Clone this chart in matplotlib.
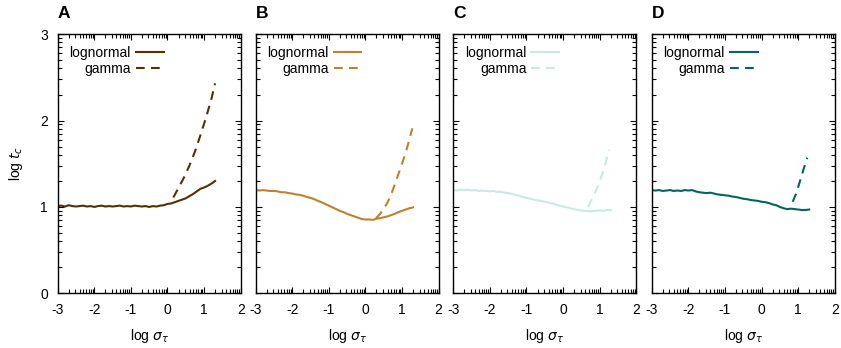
import numpy as np
import matplotlib
matplotlib.use("Agg")
import matplotlib.pyplot as plt
from matplotlib.ticker import FixedLocator

plt.rcParams['font.family'] = ['Liberation Sans', 'DejaVu Sans']
plt.rcParams['mathtext.fontset'] = 'dejavusans'

# x grid of the lognormal curves (log sigma_tau)
x_ln = [-3.0, -2.9, -2.8, -2.7, -2.6, -2.5, -2.4, -2.3, -2.2, -2.1,
        -2.0, -1.9, -1.8, -1.7, -1.6, -1.5, -1.4, -1.3, -1.2, -1.1,
        -1.0, -0.9, -0.8, -0.7, -0.6, -0.5, -0.4, -0.3, -0.2, -0.1,
        0.0, 0.1, 0.2, 0.3, 0.4, 0.5, 0.6, 0.7, 0.8, 0.9,
        1.0, 1.1, 1.2, 1.3]

# panel A
lnA = [1.01, 1.015, 1.005, 1.02, 1.01, 1.005, 1.01, 1.015, 1.005, 1.01,
       1.0, 1.01, 1.015, 1.005, 1.01, 1.005, 1.01, 1.015, 1.005, 1.01,
       1.005, 1.015, 1.01, 1.005, 1.01, 1.0, 1.01, 1.005, 1.015, 1.02,
       1.035, 1.04, 1.055, 1.07, 1.085, 1.10, 1.125, 1.15, 1.18, 1.21,
       1.225, 1.245, 1.27, 1.30]
gxA = [0.16, 0.3, 0.45, 0.6, 0.75, 0.9, 1.05, 1.2, 1.3]
gyA = [1.11, 1.22, 1.34, 1.48, 1.64, 1.83, 2.03, 2.25, 2.43]

# panel B
lnB = [1.195, 1.19, 1.195, 1.19, 1.185, 1.185, 1.18, 1.17, 1.17, 1.16,
       1.155, 1.145, 1.14, 1.13, 1.115, 1.105, 1.09, 1.07, 1.055, 1.035,
       1.015, 0.995, 0.975, 0.955, 0.94, 0.92, 0.905, 0.89, 0.875, 0.86,
       0.855, 0.855, 0.85, 0.865, 0.87, 0.88, 0.89, 0.905, 0.92, 0.94,
       0.955, 0.97, 0.985, 0.995]
gxB = [0.29, 0.4, 0.5, 0.6, 0.7, 0.8, 0.9, 1.0, 1.1, 1.2, 1.28]
gyB = [0.87, 0.92, 0.98, 1.05, 1.14, 1.26, 1.38, 1.50, 1.63, 1.78, 1.91]

# panel C
lnC = [1.195, 1.19, 1.20, 1.195, 1.20, 1.19, 1.195, 1.185, 1.19, 1.185,
       1.18, 1.185, 1.175, 1.175, 1.165, 1.16, 1.15, 1.14, 1.13, 1.115,
       1.105, 1.095, 1.085, 1.075, 1.07, 1.06, 1.05, 1.04, 1.03, 1.015,
       1.005, 0.995, 0.985, 0.975, 0.965, 0.96, 0.955, 0.95, 0.95, 0.955,
       0.96, 0.955, 0.965, 0.965]
gxC = [0.68, 0.8, 0.9, 1.0, 1.1, 1.2, 1.26]
gyC = [1.0, 1.1, 1.19, 1.30, 1.42, 1.57, 1.66]

# panel D
lnD = [1.195, 1.19, 1.195, 1.185, 1.19, 1.195, 1.185, 1.19, 1.185, 1.195,
       1.19, 1.195, 1.18, 1.17, 1.165, 1.16, 1.165, 1.155, 1.145, 1.14,
       1.135, 1.13, 1.12, 1.115, 1.105, 1.095, 1.09, 1.08, 1.075, 1.07,
       1.06, 1.055, 1.045, 1.03, 1.02, 1.0, 0.985, 0.975, 0.98, 0.975,
       0.97, 0.965, 0.965, 0.97]
gxD = [0.85, 0.95, 1.05, 1.15, 1.25]
gyD = [1.06, 1.16, 1.30, 1.44, 1.57]

letters = ['A', 'B', 'C', 'D']
colors = ['#543005', '#bf812d', '#c7eae5', '#01665e']
lognormals = [lnA, lnB, lnC, lnD]
gammas = [(gxA, gyA), (gxB, gyB), (gxC, gyC), (gxD, gyD)]

lefts = [0.0686, 0.304, 0.539, 0.775]

fig = plt.figure(figsize=(8.41, 3.48), dpi=100)

# log-style minor ticks inside every unit interval
def minor_pos(lo, hi):
    return [i + np.log10(k) for i in range(lo, hi) for k in range(2, 10)]

for i in range(4):
    ax = fig.add_axes([lefts[i], 0.157, 0.2176, 0.745])
    c = colors[i]
    ax.plot(x_ln, lognormals[i], color=c, lw=1.5, label='lognormal')
    gx, gy = gammas[i]
    ax.plot(gx, gy, color=c, lw=1.5, ls=(0, (4.2, 3.0)), label='gamma')

    ax.set_xlim(-3, 2)
    ax.set_ylim(0, 3)
    ax.set_xticks([-3, -2, -1, 0, 1, 2])
    ax.set_yticks([0, 1, 2, 3])
    ax.xaxis.set_minor_locator(FixedLocator(minor_pos(-3, 2)))
    ax.yaxis.set_minor_locator(FixedLocator(minor_pos(0, 3)))
    ax.tick_params(which='both', direction='in', top=True, right=True,
                   labelsize=10, width=0.8)
    ax.tick_params(which='major', length=4, pad=7)
    ax.tick_params(which='minor', length=2.6)
    ax.set_xticklabels(['-3', '-2', '-1', '0', '1', '2'])
    if i == 0:
        ax.set_yticklabels(['0', '1', '2', '3'])
        ax.set_ylabel(r'log $t_c$', fontsize=10, labelpad=11)
    else:
        ax.set_yticklabels([])
    for s in ax.spines.values():
        s.set_linewidth(1.0)
    ax.set_xlabel(r'log $\sigma_\tau$', fontsize=10, labelpad=7)
    ax.text(0.0, 1.08, letters[i], transform=ax.transAxes, fontsize=12.5,
            fontweight='bold', ha='left', va='center')
    ax.legend(loc='upper left', frameon=False, markerfirst=False,
              fontsize=10, handlelength=2.0, handletextpad=0.35,
              labelspacing=0.15, borderaxespad=0.5, borderpad=0.35)

fig.savefig('out.png', dpi=100)
